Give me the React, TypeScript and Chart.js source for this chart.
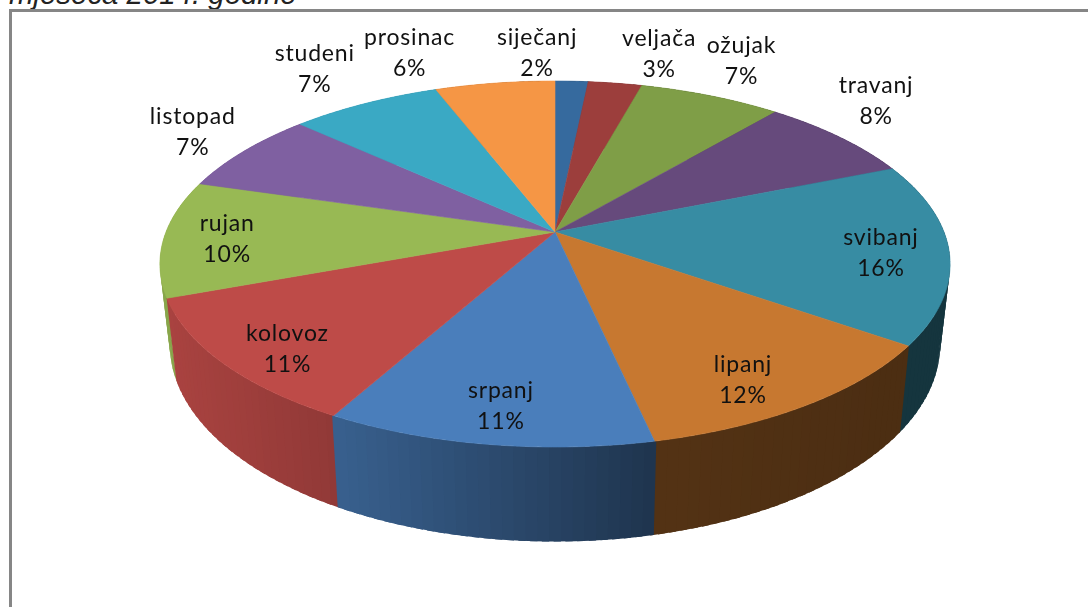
import React, { useEffect, useRef } from "react";
import { Chart, registerables } from "chart.js";

Chart.register(...registerables);

const months = ["siječanj", "veljača", "ožujak", "travanj", "svibanj", "lipanj", "srpanj", "kolovoz", "rujan", "listopad", "studeni", "prosinac"];
const shares = [1.6, 2.6, 6.9, 7.7, 16.0, 11.8, 11.4, 11.3, 10.3, 7.3, 7.3, 5.8];
const sliceColors = ["#366a9e", "#9c3e3c", "#7f9e47", "#664a7c", "#378ca3", "#c77830", "#4a7ebb", "#be4b48", "#98b954", "#7f60a1", "#3aa9c4", "#f59645"];
const titleText = "mjeseca 2014. godine";

// label placement, relative to each slice's middle: radius (1 = rim) and turn in degrees
const labelRadius = [1.226, 1.259, 1.295, 1.271, 0.829, 0.841, 0.845, 0.854, 0.838, 1.208, 1.319, 1.306];
const labelTurn = [-5.5, 4.5, -1.1, -5.6, 1.5, 3.4, -0.2, -2.9, -0.7, 1.5, 0.1, -9.9];

// camera: horizontal / vertical stretch against the arc's radius, tilt, wall height
const STRETCH_X = 389 / 232;
const STRETCH_Y = 177.4 / 232;
const TILT = 0.175;
const WALL = 78 / 232;
const WALL_NARROW = 0.975;
const shadeStops: [number, number][] = [[-400, 0.9], [-220, 0.76], [95, 0.42], [345, 0.38], [400, 0.38]];

function shadeFor(dx: number) {
  for (let i = 1; i < shadeStops.length; i++) {
    const [x0, s0] = shadeStops[i - 1];
    const [x1, s1] = shadeStops[i];
    if (dx <= x1) return s0 + ((s1 - s0) * (dx - x0)) / (x1 - x0);
  }
  return shadeStops[shadeStops.length - 1][1];
}

function shade(hex: string, f: number) {
  const n = parseInt(hex.slice(1), 16);
  const c = [(n >> 16) & 255, (n >> 8) & 255, n & 255].map((v) => Math.round(v * f));
  return `rgb(${c[0]},${c[1]},${c[2]})`;
}

const pie3d = {
  id: "pie3d",
  beforeDatasetsDraw(chart: any) {
    const ctx: CanvasRenderingContext2D = chart.ctx;
    const arcs = chart.getDatasetMeta(0).data as any[];
    const first = arcs[0];
    const cx = first.x;
    const cy = first.y;
    const R = first.outerRadius;
    const top = (a: number, r = 1) => {
      const u = Math.cos(a) * r;
      const v = Math.sin(a) * r;
      const w = 1 - TILT * v;
      return { x: cx + (R * STRETCH_X * u) / w, y: cy + (R * STRETCH_Y * v) / w, w };
    };
    const bottom = (a: number) => {
      const p = top(a);
      return { x: cx + (p.x - cx) * WALL_NARROW, y: p.y + (R * WALL) / p.w };
    };

    // walls: one slice at a time, back to front; each band overlaps its neighbours
    const order = arcs
      .map((arc, i) => ({ arc, i }))
      .sort((p, q) => Math.sin((p.arc.startAngle + p.arc.endAngle) / 2) - Math.sin((q.arc.startAngle + q.arc.endAngle) / 2));
    for (const { arc, i } of order) {
      const span = arc.endAngle - arc.startAngle;
      const n = Math.max(1, Math.ceil(span / ((1.5 * Math.PI) / 180)));
      for (let k = 0; k < n; k++) {
        const a = arc.startAngle + (span * k) / n;
        const b = arc.startAngle + (span * (k + 1)) / n;
        const start = a - 0.004;
        const end = Math.min(b + 0.012, arc.startAngle + span + 0.004);
        const p0 = top(start);
        const p1 = top(end);
        const q1 = bottom(end);
        const q0 = bottom(start);
        const mid = top((a + b) / 2);
        ctx.fillStyle = shade(sliceColors[i], shadeFor(mid.x - cx));
        ctx.beginPath();
        ctx.moveTo(p0.x, p0.y);
        ctx.lineTo(p1.x, p1.y);
        ctx.lineTo(q1.x, q1.y);
        ctx.lineTo(q0.x, q0.y);
        ctx.closePath();
        ctx.fill();
      }
    }

    // top face
    arcs.forEach((arc) => {
      const col = arc.options.backgroundColor;
      ctx.fillStyle = col;
      ctx.strokeStyle = col;
      ctx.lineWidth = 0.6;
      ctx.beginPath();
      ctx.moveTo(cx, cy);
      const n = Math.max(4, Math.ceil((arc.endAngle - arc.startAngle) / 0.01));
      for (let k = 0; k <= n; k++) {
        const p = top(arc.startAngle + ((arc.endAngle - arc.startAngle) * k) / n);
        ctx.lineTo(p.x, p.y);
      }
      ctx.closePath();
      ctx.fill();
      ctx.stroke();
    });

    // labels
    const total = shares.reduce((s, v) => s + v, 0);
    ctx.fillStyle = "#111";
    ctx.font = "23px Lato";
    (ctx as any).letterSpacing = "0.8px";
    ctx.textAlign = "center";
    ctx.textBaseline = "middle";
    arcs.forEach((arc, i) => {
      const mid = (arc.startAngle + arc.endAngle) / 2 + (labelTurn[i] * Math.PI) / 180;
      const p = top(mid, labelRadius[i]);
      ctx.fillText(months[i], p.x, p.y - 15.5);
      ctx.fillText(`${Math.round((shares[i] / total) * 100)}%`, p.x, p.y + 15.5);
    });
    (ctx as any).letterSpacing = "0px";
    return false;
  },
};

export default function App() {
  const ref = useRef<HTMLCanvasElement>(null);
  useEffect(() => {
    const chart = new Chart(ref.current!, {
      type: "pie",
      data: {
        labels: months,
        datasets: [{ data: shares, backgroundColor: sliceColors, borderWidth: 0 }],
      },
      options: {
        responsive: false,
        animation: false,
        layout: { padding: { left: 22, top: 0, right: 0, bottom: 143 } },
        plugins: { legend: { display: false }, tooltip: { enabled: false } },
      },
      plugins: [pie3d],
    } as any);
    return () => chart.destroy();
  }, []);
  return (
    <div style={{ position: "fixed", left: 0, top: 0, width: 1088, height: 607, overflow: "hidden", background: "#fff", filter: "blur(0.45px)" }}>
      <div style={{ position: "absolute", left: 9, top: -23, fontFamily: "'Liberation Sans'", fontStyle: "italic", fontSize: 29.4, lineHeight: "34px", color: "#222", whiteSpace: "nowrap" }}>{titleText}</div>
      <canvas ref={ref} width={1088} height={607} style={{ position: "absolute", left: 0, top: 0 }} />
      <div style={{ position: "absolute", left: 9, top: 9, width: 1300, height: 800, borderLeft: "3px solid #868686", borderTop: "3px solid #868686" }} />
    </div>
  );
}
